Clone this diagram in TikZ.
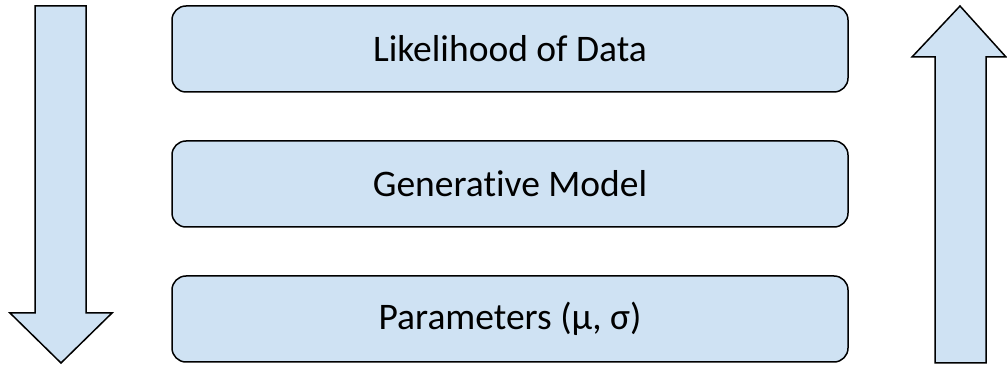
\documentclass[tikz,border=0pt]{standalone}
\usepackage{fontspec}
\setmainfont{Carlito}[Ligatures=NoCommon]
\usetikzlibrary{positioning}
\definecolor{boxblue}{RGB}{207,226,243}
\tikzset{
    box/.style      = {draw=black, line width=1.5pt, fill=boxblue,
            minimum width=676pt, minimum height=86pt,
            inner sep=0pt, outer sep=0pt, rounded corners=14pt,
            font=\fontsize{37.5}{42}\selectfont},
    bigarrow/.style = {draw=black, line width=1.5pt, fill=boxblue,
            line join=miter},
}

\begin{document}
\begin{tikzpicture}[x=1pt, y=-1pt, node distance=49pt]
    \useasboundingbox (0,0) rectangle (1007,371);
    % Boxes
    \node[box] (lik) at (510,49) {Likelihood of Data};
    \node[box, below=of lik] (gen) {Generative Model};
    \node[box, below=of gen] (par) {Parameters (μ, σ)};

    % Block arrows
    \filldraw[bigarrow] (35,6) -- (86,6) -- (86,313) -- (112,313)
        -- (61,363) -- (10,313) -- (35,313) -- cycle;
    \filldraw[bigarrow] (935,363) -- (986,363) -- (986,57) -- (1006,57)
        -- (960,6) -- (912,57) -- (935,57) -- cycle;
\end{tikzpicture}
\end{document}
